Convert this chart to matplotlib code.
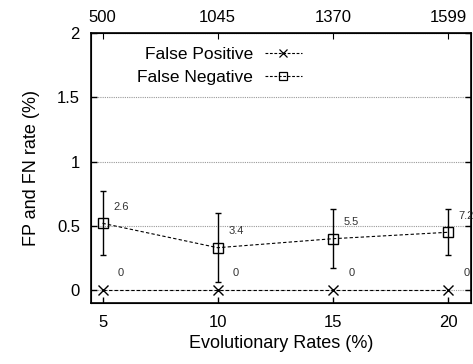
import numpy as np
import matplotlib
matplotlib.use("Agg")
import matplotlib.pyplot as plt
from matplotlib.lines import Line2D

plt.rcParams['font.family'] = ['Liberation Sans', 'DejaVu Sans']

# data
rates = [5, 10, 15, 20]
top_labels = ['500', '1045', '1370', '1599']
fp = [0, 0, 0, 0]
fn = [0.52, 0.33, 0.40, 0.45]
fn_err = [0.25, 0.27, 0.23, 0.18]
fp_text = ['0', '0', '0', '0']
fn_text = ['2.6', '3.4', '5.5', '7.2']

fig = plt.figure(figsize=(4.73, 3.64), dpi=100)
ax = fig.add_axes([0.1924, 0.1676, 0.8034, 0.7417])

# horizontal dotted grid
ax.yaxis.grid(True, linestyle=(0, (1, 1)), color='#999999', linewidth=0.8, zorder=0)
ax.xaxis.grid(False)

ax.plot(rates, fp, linestyle='--', dashes=(3, 2), color='black', linewidth=0.8,
        marker='x', markersize=7, markeredgewidth=1.0, zorder=3)
ax.errorbar(rates, fn, yerr=fn_err, linestyle='--', dashes=(3, 2), color='black',
            linewidth=0.8, marker='s', markersize=6.5, markerfacecolor='none',
            markeredgewidth=1.0, ecolor='black', elinewidth=1.0, capsize=2.3,
            capthick=1.0, zorder=3)

for x, y, t in zip(rates, fp, fp_text):
    ax.text(x + 0.8, y + 0.13, t, fontsize=8, ha='center', va='center', color='#333333')
for x, y, t in zip(rates, fn, fn_text):
    ax.text(x + 0.8, y + 0.13, t, fontsize=8, ha='center', va='center', color='#333333')

ax.set_xlim(4.5, 21)
ax.set_ylim(-0.1, 2)
ax.set_xticks(rates)
ax.set_yticks([0, 0.5, 1, 1.5, 2])
ax.set_yticklabels(['0', '0.5', '1', '1.5', '2'])
ax.tick_params(axis='both', direction='in', length=4, labelsize=12, width=1)
ax.tick_params(axis='y', right=True, pad=8)
ax.tick_params(axis='x', pad=9)

ax2 = ax.twiny()
ax2.set_xlim(ax.get_xlim())
ax2.set_xticks(rates)
ax2.set_xticklabels(top_labels)
ax2.tick_params(axis='x', direction='in', length=4, labelsize=12, pad=6)

for s in ax.spines.values():
    s.set_linewidth(1.2)

ax.set_xlabel('Evolutionary Rates (%)', fontsize=13, labelpad=3)
ax.set_ylabel('FP and FN rate (%)', fontsize=13, labelpad=12)

handles = [
    Line2D([], [], linestyle='--', dashes=(2.5, 1.5), color='black', linewidth=0.8,
           marker='x', markersize=6, markeredgewidth=0.9),
    Line2D([], [], linestyle='--', dashes=(2.5, 1.5), color='black', linewidth=0.8,
           marker='s', markersize=6, markerfacecolor='none', markeredgewidth=0.9),
]
ax.legend(handles, ['False Positive', 'False Negative'], loc='upper left',
          bbox_to_anchor=(0.08, 1.005), frameon=False, markerfirst=False,
          fontsize=12.5, handlelength=2.1, handletextpad=0.7, labelspacing=0.45)

fig.savefig('out.png', dpi=100)
